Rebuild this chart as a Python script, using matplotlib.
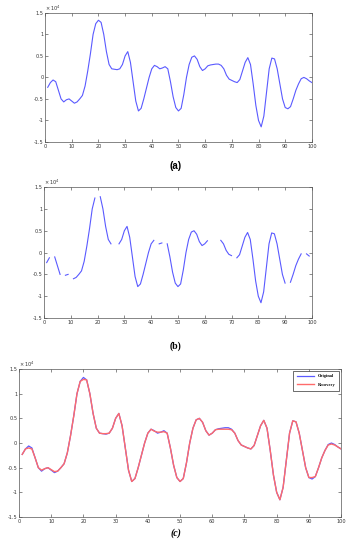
import numpy as np
import matplotlib
matplotlib.use('Agg')
import matplotlib.pyplot as plt
from matplotlib.ticker import FuncFormatter

# sample index 1..100, values in units of 1e4
x = np.arange(1, 101)

original = [
    -0.23, -0.12, -0.06, -0.10, -0.30, -0.50, -0.57, -0.52, -0.50, -0.55,
    -0.60, -0.57, -0.50, -0.42, -0.20, 0.15, 0.55, 1.00, 1.25, 1.33,
    1.28, 1.00, 0.60, 0.30, 0.20, 0.19, 0.18, 0.20, 0.30, 0.50,
    0.60, 0.35, -0.10, -0.55, -0.78, -0.72, -0.50, -0.25, 0.00, 0.20,
    0.28, 0.25, 0.20, 0.22, 0.25, 0.20, -0.10, -0.45, -0.70, -0.78,
    -0.72, -0.40, 0.00, 0.30, 0.47, 0.50, 0.42, 0.25, 0.16, 0.20,
    0.27, 0.29, 0.30, 0.31, 0.31, 0.28, 0.20, 0.05, -0.04, -0.07,
    -0.10, -0.12, -0.05, 0.15, 0.35, 0.46, 0.30, -0.15, -0.65, -1.00,
    -1.15, -0.90, -0.35, 0.20, 0.45, 0.43, 0.20, -0.15, -0.50, -0.70,
    -0.73, -0.68, -0.50, -0.30, -0.15, -0.03, 0.00, -0.03, -0.08, -0.12,
]

# samples lost in (b)
missing = [3, 7, 10, 20, 26, 27, 42, 45, 62, 63, 64, 65, 71, 91, 97, 100]

recovery = [
    -0.23, -0.12, -0.10, -0.12, -0.30, -0.50, -0.55, -0.52, -0.50, -0.54,
    -0.58, -0.57, -0.50, -0.42, -0.20, 0.15, 0.55, 1.00, 1.25, 1.29,
    1.28, 1.00, 0.60, 0.30, 0.20, 0.19, 0.19, 0.20, 0.30, 0.50,
    0.60, 0.35, -0.10, -0.55, -0.78, -0.72, -0.50, -0.25, 0.00, 0.20,
    0.28, 0.24, 0.22, 0.22, 0.23, 0.20, -0.10, -0.45, -0.70, -0.78,
    -0.72, -0.40, 0.00, 0.30, 0.47, 0.50, 0.42, 0.25, 0.16, 0.20,
    0.27, 0.28, 0.28, 0.28, 0.28, 0.27, 0.20, 0.05, -0.04, -0.07,
    -0.10, -0.12, -0.05, 0.15, 0.35, 0.46, 0.30, -0.15, -0.65, -1.00,
    -1.15, -0.90, -0.35, 0.20, 0.45, 0.43, 0.20, -0.15, -0.50, -0.70,
    -0.70, -0.68, -0.50, -0.30, -0.15, -0.04, -0.02, -0.04, -0.08, -0.12,
]

damaged = np.array(original, dtype=float)
damaged[np.array(missing) - 1] = np.nan

BLUE = '#5a5aff'
RED = '#ff6b6b'


def style_axes(ax):
    ax.set_xlim(0, 100)
    ax.set_ylim(-1.5, 1.5)
    ax.set_xticks(np.arange(0, 101, 10))
    ax.set_yticks(np.arange(-1.5, 1.51, 0.5))
    ax.yaxis.set_major_formatter(FuncFormatter(lambda v, p: '%g' % v))
    ax.tick_params(direction='in', top=True, right=True, length=2.5,
                   width=0.4, labelsize=3.6, pad=1.2, colors='#333333')
    for s in ax.spines.values():
        s.set_linewidth(0.5)
        s.set_color('#555555')
    ax.text(0, 1.0, r'$\times\,10^4$', transform=ax.transAxes,
            fontsize=3.6, va='bottom', ha='left', color='#333333')


fig = plt.figure(figsize=(3.52, 5.5), dpi=100)

ax1 = fig.add_axes([0.128, 0.742, 0.758, 0.2345])
ax1.plot(x, original, color=BLUE, lw=0.8)
style_axes(ax1)
fig.text(0.5, 0.698, '(a)', ha='center', va='center', fontsize=7,
         fontweight='bold', family='Liberation Sans')

ax2 = fig.add_axes([0.125, 0.4218, 0.761, 0.238])
ax2.plot(x, damaged, color=BLUE, lw=0.8)
style_axes(ax2)
fig.text(0.5, 0.371, '(b)', ha='center', va='center', fontsize=7,
         fontweight='bold', family='Liberation Serif')

ax3 = fig.add_axes([0.054, 0.06, 0.915, 0.269])
ax3.plot(x, original, color=BLUE, lw=0.9, label='Original')
ax3.plot(x, recovery, color=RED, lw=1.0, label='Recovery')
style_axes(ax3)
leg = ax3.legend(loc='upper right', prop={'family': 'Liberation Serif',
                 'weight': 'bold', 'size': 3.2}, handlelength=4,
                 borderpad=0.8, labelspacing=1.0, fancybox=False,
                 framealpha=1, borderaxespad=0.4)
leg.get_frame().set_edgecolor('#333333')
leg.get_frame().set_linewidth(0.5)
fig.text(0.5, 0.031, '(c)', ha='center', va='center', fontsize=7,
         fontweight='bold', fontstyle='italic', family='Liberation Serif')

fig.savefig('out.png', dpi=100)
